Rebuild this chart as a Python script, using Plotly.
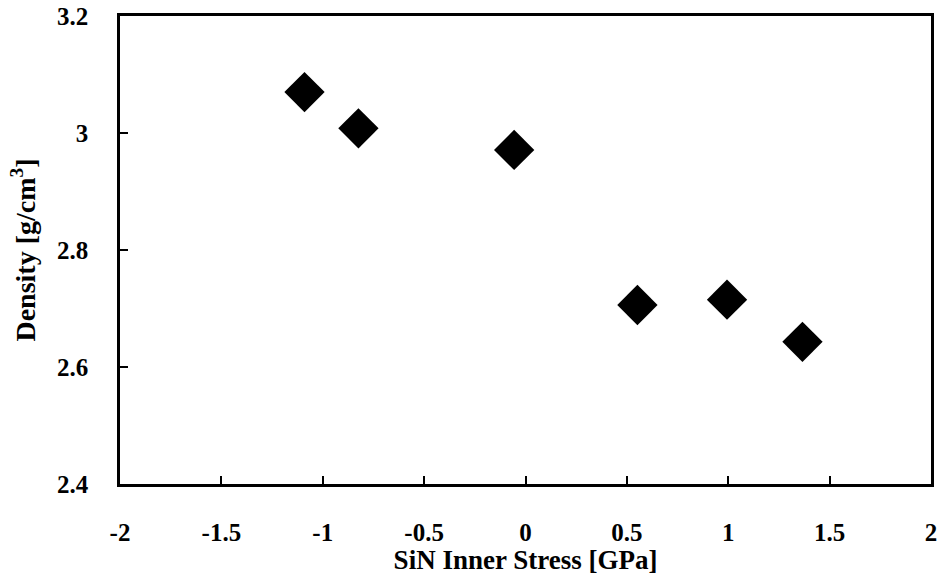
import plotly.graph_objects as go

stress = [-1.09, -0.824, -0.056, 0.552, 0.994, 1.366]
density = [3.07, 3.008, 2.971, 2.706, 2.715, 2.643]

x_ticks = [-2, -1.5, -1, -0.5, 0, 0.5, 1, 1.5, 2]
x_labels = ["-2", "-1.5", "-1", "-0.5", "0", "0.5", "1", "1.5", "2"]
y_ticks = [2.4, 2.6, 2.8, 3.0, 3.2]
y_labels = ["2.4", "2.6", "2.8", "3", "3.2"]

font = "Liberation Serif, Times New Roman, serif"

fig = go.Figure(go.Scatter(
    x=stress, y=density, mode="markers",
    marker=dict(symbol="diamond", size=31, color="black", line=dict(width=0)),
))

axis_common = dict(
    showgrid=False, zeroline=False, showline=True, linecolor="black", linewidth=2.5,
    mirror=True, ticks="inside", ticklen=8, tickwidth=2, tickcolor="black",
    tickfont=dict(family=font, size=25, color="black", weight="bold"),
    automargin=False,
)

fig.update_layout(
    width=940, height=575,
    margin=dict(l=120, r=9, t=16, b=91),
    plot_bgcolor="white", paper_bgcolor="white",
    showlegend=False,
    font=dict(family=font, color="black"),
    xaxis=dict(range=[-2, 2], tickvals=x_ticks, ticktext=x_labels,
               ticklabelstandoff=24,
               title=dict(text="<b>SiN Inner Stress [GPa]</b>", font=dict(family=font, size=27), standoff=6),
               **axis_common),
    yaxis=dict(range=[2.4, 3.2], tickvals=y_ticks, ticktext=y_labels,
               ticklabelstandoff=24,
               title=dict(text="<b>Density [g/cm<sup>3</sup>]</b>", font=dict(family=font, size=28), standoff=14),
               **axis_common),
)

fig.write_html("out.html")
